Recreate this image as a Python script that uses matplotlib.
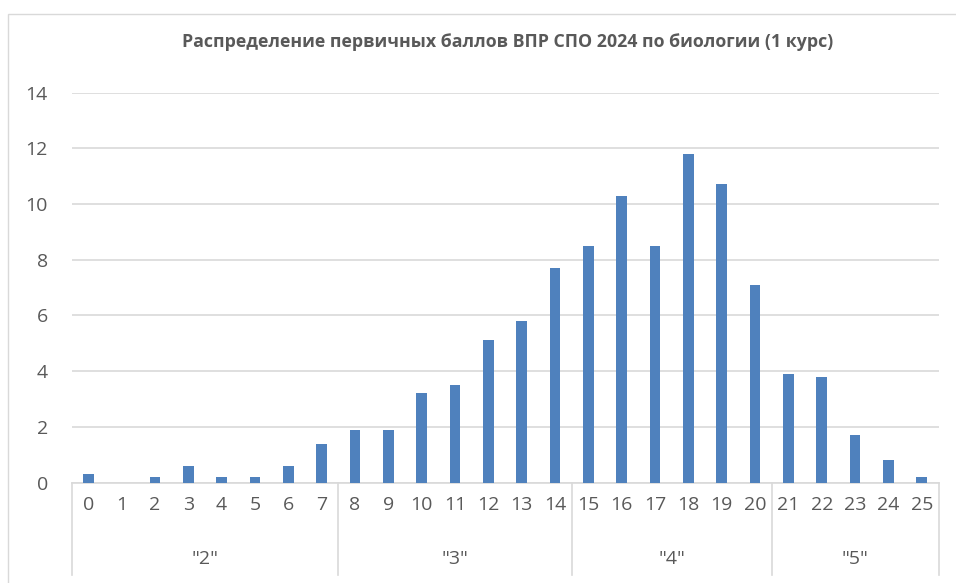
import matplotlib
matplotlib.use("Agg")
import matplotlib.pyplot as plt
from matplotlib.patches import Rectangle

title = "Распределение первичных баллов ВПР СПО 2024 по биологии (1 курс)"
scores = [str(i) for i in range(26)]
values = [0.3, 0.0, 0.2, 0.6, 0.2, 0.2, 0.6, 1.4,
          1.9, 1.9, 3.2, 3.5, 5.1, 5.8, 7.7,
          8.5, 10.3, 8.5, 11.8, 10.7, 7.1,
          3.9, 3.8, 1.7, 0.8, 0.2]
grade_labels = ['"2"', '"3"', '"4"', '"5"']
grade_sizes = [8, 7, 6, 5]
y_ticks = [0, 2, 4, 6, 8, 10, 12, 14]

W, H = 956, 583
fig = plt.figure(figsize=(W / 100, H / 100), dpi=100)
plt.rcParams['font.family'] = ['Open Sans', 'DejaVu Sans']

text_col = '#595959'
grid_col = '#D9D9D9'
bar_col = '#4F81BD'

# chart border
fig.patches.append(Rectangle((7.5 / W, -0.1), 2.0, 1 - 13.5 / H + 0.1,
                             transform=fig.transFigure, fill=False,
                             edgecolor=grid_col, linewidth=1.0))

left_px, right_px = 71.5, 938.5
bottom_px, top_px = 482.5, 92.5
ax = fig.add_axes([left_px / W, 1 - bottom_px / H,
                   (right_px - left_px) / W, (bottom_px - top_px) / H])

x = list(range(len(scores)))
ax.bar(x, values, width=0.32, color=bar_col, zorder=3)
ax.set_xlim(-0.5, len(scores) - 0.5)
ax.set_ylim(0, 14)
ax.set_yticks(y_ticks)
ax.set_yticklabels([str(t) for t in y_ticks])
ax.yaxis.grid(True, color=grid_col, linewidth=1.2, zorder=0)
ax.set_axisbelow(True)
for s in ['top', 'right', 'left']:
    ax.spines[s].set_visible(False)
ax.spines['bottom'].set_color(grid_col)
ax.spines['bottom'].set_linewidth(1.2)
ax.tick_params(axis='y', length=0, pad=17, labelsize=14, labelcolor=text_col)
ax.set_xticks(x)
ax.set_xticklabels(scores)
ax.tick_params(axis='x', length=0, pad=10, labelsize=14, labelcolor=text_col)

# group separators and labels
axis_h = bottom_px - top_px
sep_bottom = (bottom_px - 575) / axis_h
grp_y = (bottom_px - 559) / axis_h
bounds = [-0.5]
for n in grade_sizes:
    bounds.append(bounds[-1] + n)
for b in bounds:
    ax.plot([b, b], [0, sep_bottom], transform=ax.get_xaxis_transform(),
            color=grid_col, linewidth=1.2, clip_on=False)
for i, lab in enumerate(grade_labels):
    cx = (bounds[i] + bounds[i + 1]) / 2
    ax.text(cx, grp_y, lab, transform=ax.get_xaxis_transform(),
            ha='center', va='center', fontsize=14, color=text_col)

fig.text(508 / W, 1 - 42 / H, title, ha='center', va='center',
         fontsize=12.8, fontweight='bold', color=text_col)

fig.savefig('out.png', dpi=100)
